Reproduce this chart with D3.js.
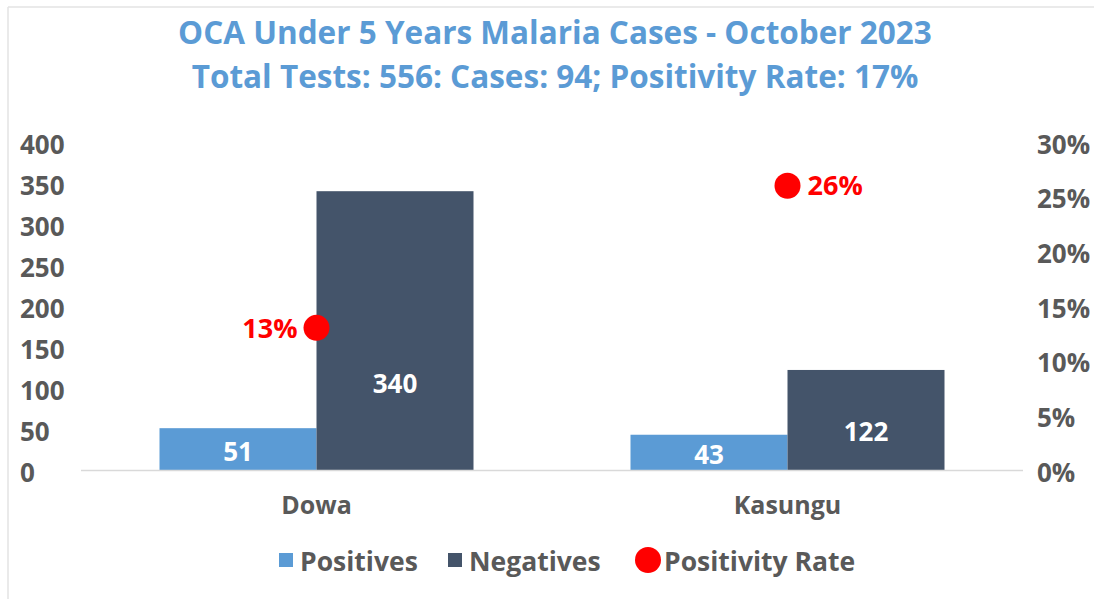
<!DOCTYPE html>
<html>
<head>
<meta charset="utf-8">
<script src="https://cdn.jsdelivr.net/npm/d3@7"></script>
<style>
  html, body { margin: 0; padding: 0; background: #fff; }
  svg { display: block; }
  text { font-family: "Open Sans", Lato, sans-serif; font-weight: bold; }
</style>
</head>
<body>
<svg id="chart" width="1094" height="599"></svg>
<script>
// ---- data ----
const titleLines = ["OCA Under 5 Years Malaria Cases - October 2023",
                    "Total Tests: 556: Cases: 94; Positivity Rate: 17%"];
const categories = ["Dowa", "Kasungu"];
const positives = [51, 43];
const negatives = [340, 122];
const positivityRate = [0.13, 0.26];
const leftTicks = [0, 50, 100, 150, 200, 250, 300, 350, 400];
const rightTicks = [0, 0.05, 0.10, 0.15, 0.20, 0.25, 0.30];
const seriesNames = ["Positives", "Negatives", "Positivity Rate"];

// ---- drawing ----
const colPos = "#5B9BD5", colNeg = "#44546A", colRate = "#FF0000";
const textGray = "#595959";
const FONT = "'Open Sans', Lato, sans-serif";
const svg = d3.select("#chart");

// chart border (top & left visible)
svg.append("line").attr("x1", 8).attr("x2", 1094).attr("y1", 7).attr("y2", 7)
  .attr("stroke", "#e3e3e3").attr("stroke-width", 1.5);
svg.append("line").attr("x1", 8).attr("x2", 8).attr("y1", 7).attr("y2", 599)
  .attr("stroke", "#e3e3e3").attr("stroke-width", 1.5);

// title
svg.selectAll("text.title").data(titleLines).join("text")
  .attr("class", "title")
  .attr("x", 555).attr("y", (d, i) => 44 + i * 44)
  .attr("text-anchor", "middle")
  .attr("fill", colPos).attr("font-size", 31.5)
  .text(d => d);

const plotL = 81, plotR = 1023;
const x = d3.scaleBand().domain(categories).range([plotL, plotR]).paddingInner(0).paddingOuter(0);
const xs = d3.scaleBand().domain(["pos", "neg"]).range([x.bandwidth() / 6, x.bandwidth() * 5 / 6]);
const y = d3.scaleLinear().domain([0, 400]).range([470, 142]);
const y2 = d3.scaleLinear().domain([0, 0.30]).range([470, 142]);

function styleAxis(sel) {
  sel.select(".domain").remove();
  sel.selectAll("text").attr("fill", textGray).attr("font-size", 26)
    .attr("font-family", FONT).attr("font-weight", "bold").attr("dy", "0.43em");
}
// left axis
svg.append("g").attr("transform", "translate(20,0)")
  .call(d3.axisRight(y).tickValues(leftTicks).tickSize(0).tickPadding(0))
  .call(styleAxis);
// right axis
svg.append("g").attr("transform", "translate(1037,0)")
  .call(d3.axisRight(y2).tickValues(rightTicks).tickSize(0).tickPadding(0).tickFormat(d3.format(".0%")))
  .call(styleAxis);

// bars
const rows = categories.map((c, i) => ({ c, pos: positives[i], neg: negatives[i], rate: positivityRate[i] }));
const g = svg.append("g");
g.selectAll("rect.pos").data(rows).join("rect").attr("class", "pos")
  .attr("x", d => x(d.c) + xs("pos")).attr("width", xs.bandwidth())
  .attr("y", d => y(d.pos)).attr("height", d => y(0) - y(d.pos)).attr("fill", colPos);
g.selectAll("rect.neg").data(rows).join("rect").attr("class", "neg")
  .attr("x", d => x(d.c) + xs("neg")).attr("width", xs.bandwidth())
  .attr("y", d => y(d.neg)).attr("height", d => y(0) - y(d.neg)).attr("fill", colNeg);

// baseline
svg.append("line").attr("x1", plotL).attr("x2", plotR).attr("y1", y(0) + 0.5).attr("y2", y(0) + 0.5)
  .attr("stroke", "#d9d9d9").attr("stroke-width", 1.5);

// bar value labels (placed inside bars)
const posLabelY = [452, 455], negLabelY = [384, 432];
g.selectAll("text.posl").data(rows).join("text").attr("class", "posl")
  .attr("x", d => x(d.c) + xs("pos") + xs.bandwidth() / 2).attr("y", (d, i) => posLabelY[i])
  .attr("dy", "0.36em").attr("text-anchor", "middle")
  .attr("fill", "#fff").attr("font-size", 26).text(d => d.pos);
g.selectAll("text.negl").data(rows).join("text").attr("class", "negl")
  .attr("x", d => x(d.c) + xs("neg") + xs.bandwidth() / 2).attr("y", (d, i) => negLabelY[i])
  .attr("dy", "0.36em").attr("text-anchor", "middle")
  .attr("fill", "#fff").attr("font-size", 26).text(d => d.neg);

// positivity points
g.selectAll("circle.rate").data(rows).join("circle").attr("class", "rate")
  .attr("cx", d => x(d.c) + x.bandwidth() / 2).attr("cy", d => y2(d.rate))
  .attr("r", 13).attr("fill", colRate);
g.selectAll("text.ratel").data(rows).join("text").attr("class", "ratel")
  .attr("x", (d, i) => x(d.c) + x.bandwidth() / 2 + (i === 0 ? -19 : 20))
  .attr("y", d => y2(d.rate)).attr("dy", "0.36em")
  .attr("text-anchor", (d, i) => i === 0 ? "end" : "start")
  .attr("fill", colRate).attr("font-size", 27).text(d => d3.format(".0%")(d.rate));

// category labels
svg.selectAll("text.cat").data(categories).join("text").attr("class", "cat")
  .attr("x", d => x(d) + x.bandwidth() / 2).attr("y", 505).attr("dy", "0.36em")
  .attr("text-anchor", "middle")
  .attr("fill", textGray).attr("font-size", 25).text(d => d);

// legend
const legend = svg.append("g");
const legendItems = [
  { name: seriesNames[0], type: "rect", color: colPos, x: 279 },
  { name: seriesNames[1], type: "rect", color: colNeg, x: 448 },
  { name: seriesNames[2], type: "circle", color: colRate, x: 635 }
];
legendItems.forEach(it => {
  if (it.type === "rect") {
    legend.append("rect").attr("x", it.x).attr("y", 553).attr("width", 14).attr("height", 14).attr("fill", it.color);
    legend.append("text").attr("x", it.x + 21).attr("y", 561).attr("dy", "0.36em")
      .attr("fill", textGray).attr("font-size", 26.5).text(it.name);
  } else {
    legend.append("circle").attr("cx", it.x + 13).attr("cy", 560).attr("r", 13).attr("fill", it.color);
    legend.append("text").attr("x", it.x + 29).attr("y", 561).attr("dy", "0.36em")
      .attr("fill", textGray).attr("font-size", 26.5).text(it.name);
  }
});
</script>
</body>
</html>
